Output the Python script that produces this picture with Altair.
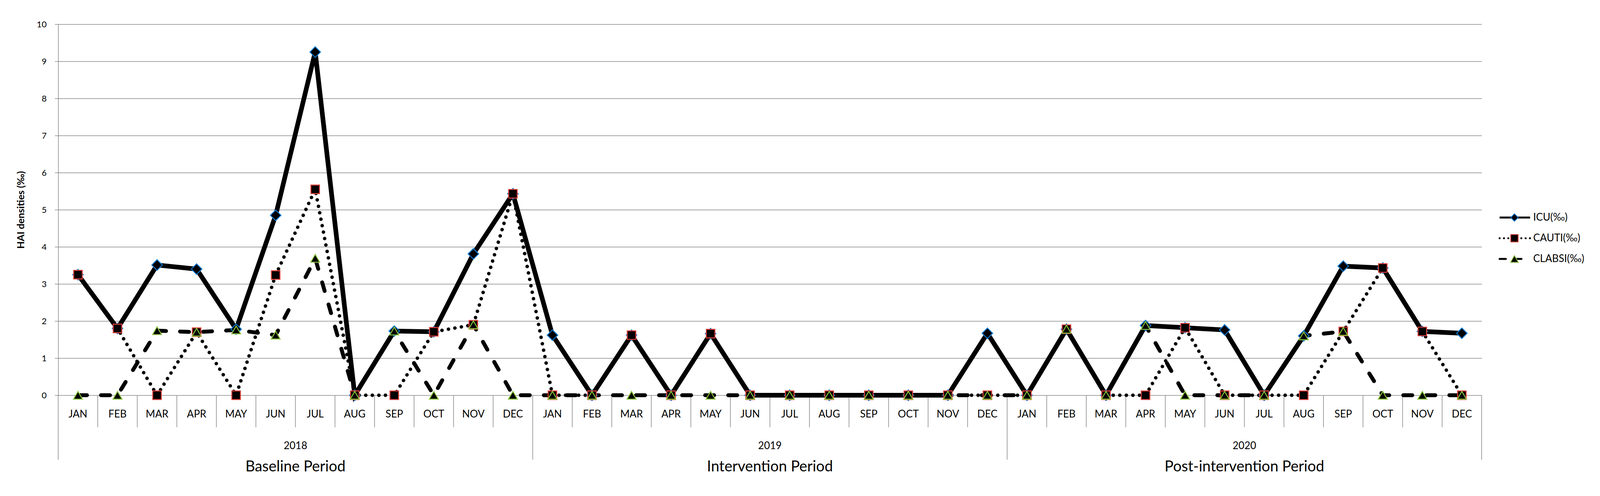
import altair as alt
import pandas as pd

months = ["JAN", "FEB", "MAR", "APR", "MAY", "JUN", "JUL", "AUG", "SEP", "OCT", "NOV", "DEC"]
years = ["2018", "2019", "2020"]
periods = ["Baseline Period", "Intervention Period", "Post-intervention Period"]
series_names = ["ICU(‰)", "CAUTI(‰)", "CLABSI(‰)"]

icu = [3.25, 1.80, 3.51, 3.40, 1.78, 4.85, 9.25, 0, 1.73, 1.71, 3.81, 5.43,
       1.62, 0, 1.62, 0, 1.66, 0, 0, 0, 0, 0, 0, 1.67,
       0, 1.78, 0, 1.88, 1.82, 1.76, 0, 1.60, 3.48, 3.43, 1.72, 1.67]
cauti = [3.25, 1.80, 0, 1.70, 0, 3.24, 5.55, 0, 0, 1.71, 1.90, 5.43,
         0, 0, 1.62, 0, 1.66, 0, 0, 0, 0, 0, 0, 0,
         0, 1.78, 0, 0, 1.82, 0, 0, 0, 1.72, 3.43, 1.72, 0]
clabsi = [0, 0, 1.74, 1.70, 1.76, 1.62, 3.69, 0, 1.73, 0, 1.90, 0,
          0, 0, 0, 0, 0, 0, 0, 0, 0, 0, 0, 0,
          0, 1.78, 0, 1.88, 0, 0, 0, 1.60, 1.72, 0, 0, 0]

W, H = 3644, 950
GRID = "#868686"
FONT = "Lato"

rows = []
for s, vals in zip(series_names, [icu, cauti, clabsi]):
    for i, v in enumerate(vals):
        rows.append({"series": s, "pos": i + 0.5, "month": months[i % 12],
                     "year": years[i // 12], "value": v})
df = pd.DataFrame(rows)

lab_df = pd.DataFrame({"pos": [i + 0.5 for i in range(36)],
                       "month": [months[i % 12] for i in range(36)]})
yr_df = pd.DataFrame({"pos": [12 * k + 6 for k in range(3)], "year": years, "period": periods})
sep_df = pd.DataFrame({"b": list(range(37))})
sep_df["long"] = sep_df["b"] % 12 == 0
leg_df = pd.DataFrame({"series": series_names})

styles = {
    "ICU(‰)": dict(dash=None, width=12, shape="diamond", stroke="#0A78D2", size=729,
                   ldash=None, lsize=361),
    "CAUTI(‰)": dict(dash=[0.1, 16.7], width=9, shape="square", stroke="#E5403A", size=484,
                     ldash=[0.1, 11], lsize=361),
    "CLABSI(‰)": dict(dash=[23, 36], width=10, shape="triangle-up", stroke="#8CC63F", size=529,
                      ldash=[16, 24], lsize=400),
}

xscale = alt.Scale(domain=[0, 36], nice=False, zero=False)
xq = alt.X("pos:Q", scale=xscale, axis=None)
yaxis = alt.Axis(values=list(range(11)), tickSize=9, tickColor=GRID, tickWidth=1.5,
                 domainColor=GRID, domainWidth=1.5, gridColor=GRID, gridWidth=1.5,
                 labelFont=FONT, labelFontSize=22, labelColor="black", labelPadding=21,
                 title="HAI densities (‰)", titleFont=FONT, titleFontSize=25,
                 titleFontWeight="bold", titleColor="black", titleX=-96, titleY=H / 2,
                 titleAngle=270, titleAlign="center", titleBaseline="middle")
yq = alt.Y("value:Q", scale=alt.Scale(domain=[0, 10], nice=False), axis=yaxis)

base = alt.Chart(df)

seps_short = alt.Chart(sep_df).transform_filter("!datum.long").mark_rule(
    color=GRID, strokeWidth=1.5).encode(
    x=alt.X("b:Q", scale=xscale, axis=None),
    y=alt.value(H), y2=alt.value(H + 82))
seps_long = alt.Chart(sep_df).transform_filter("datum.long").mark_rule(
    color=GRID, strokeWidth=1.5).encode(
    x=alt.X("b:Q", scale=xscale, axis=None),
    y=alt.value(H), y2=alt.value(H + 165))

month_text = alt.Chart(lab_df).mark_text(font=FONT, fontSize=26, color="black",
                                         baseline="middle", align="center").encode(
    x=xq, y=alt.value(H + 49), text="month:N")
year_text = alt.Chart(yr_df).mark_text(font=FONT, fontSize=26, color="black",
                                       baseline="middle", align="center").encode(
    x=xq, y=alt.value(H + 130), text="year:N")
period_text = alt.Chart(yr_df).mark_text(font=FONT, fontSize=38, color="black",
                                         baseline="middle", align="center").encode(
    x=xq, y=alt.value(H + 184), text="period:N")

line_layers = []
point_layers = []
for s in series_names:
    st = styles[s]
    lk = dict(color="black", strokeWidth=st["width"])
    if st["dash"] is not None:
        lk["strokeDash"] = st["dash"]
        lk["strokeCap"] = "round"
    line_layers.append(base.transform_filter(alt.datum.series == s).mark_line(**lk).encode(x=xq, y=yq))
    point_layers.append(base.transform_filter(alt.datum.series == s).mark_point(
        shape=st["shape"], filled=True, fill="black", stroke=st["stroke"], strokeWidth=2.4,
        size=st["size"], opacity=1).encode(x=xq, y=yq))

main = alt.layer(seps_short, seps_long, month_text, year_text, period_text,
                 *line_layers, *point_layers)

ly = alt.Y("series:N", scale=alt.Scale(type="point", domain=series_names, range=[495, 601],
                                       padding=0), axis=None)
leg_layers = []
for s in series_names:
    st = styles[s]
    lk = dict(color="black", strokeWidth=5)
    if st["ldash"] is not None:
        lk["strokeDash"] = st["ldash"]
        lk["strokeCap"] = "round"
    leg_layers.append(alt.Chart(leg_df).transform_filter(alt.datum.series == s).mark_rule(**lk).encode(
        x=alt.value(3690), x2=alt.value(3768), y=ly))
for s in series_names:
    st = styles[s]
    leg_layers.append(alt.Chart(leg_df).transform_filter(alt.datum.series == s).mark_point(
        shape=st["shape"], filled=True, fill="black", stroke=st["stroke"], strokeWidth=2,
        size=st["lsize"], opacity=1).encode(x=alt.value(3728), y=ly))
leg_layers.append(alt.Chart(leg_df).mark_text(font=FONT, fontSize=26, color="black",
                                              align="left", baseline="middle").encode(
    x=alt.value(3776), y=ly, text="series:N"))
legend = alt.layer(*leg_layers)

chart = alt.layer(main, legend).resolve_scale(y="independent").properties(
    width=W, height=H,
    padding={"left": 141, "top": 54, "right": 290, "bottom": 240},
    autosize=alt.AutoSizeParams(type="none"),
    background="white",
).configure_view(strokeWidth=0)

chart.save("out.html", embed_options={"renderer": "svg", "actions": False})
